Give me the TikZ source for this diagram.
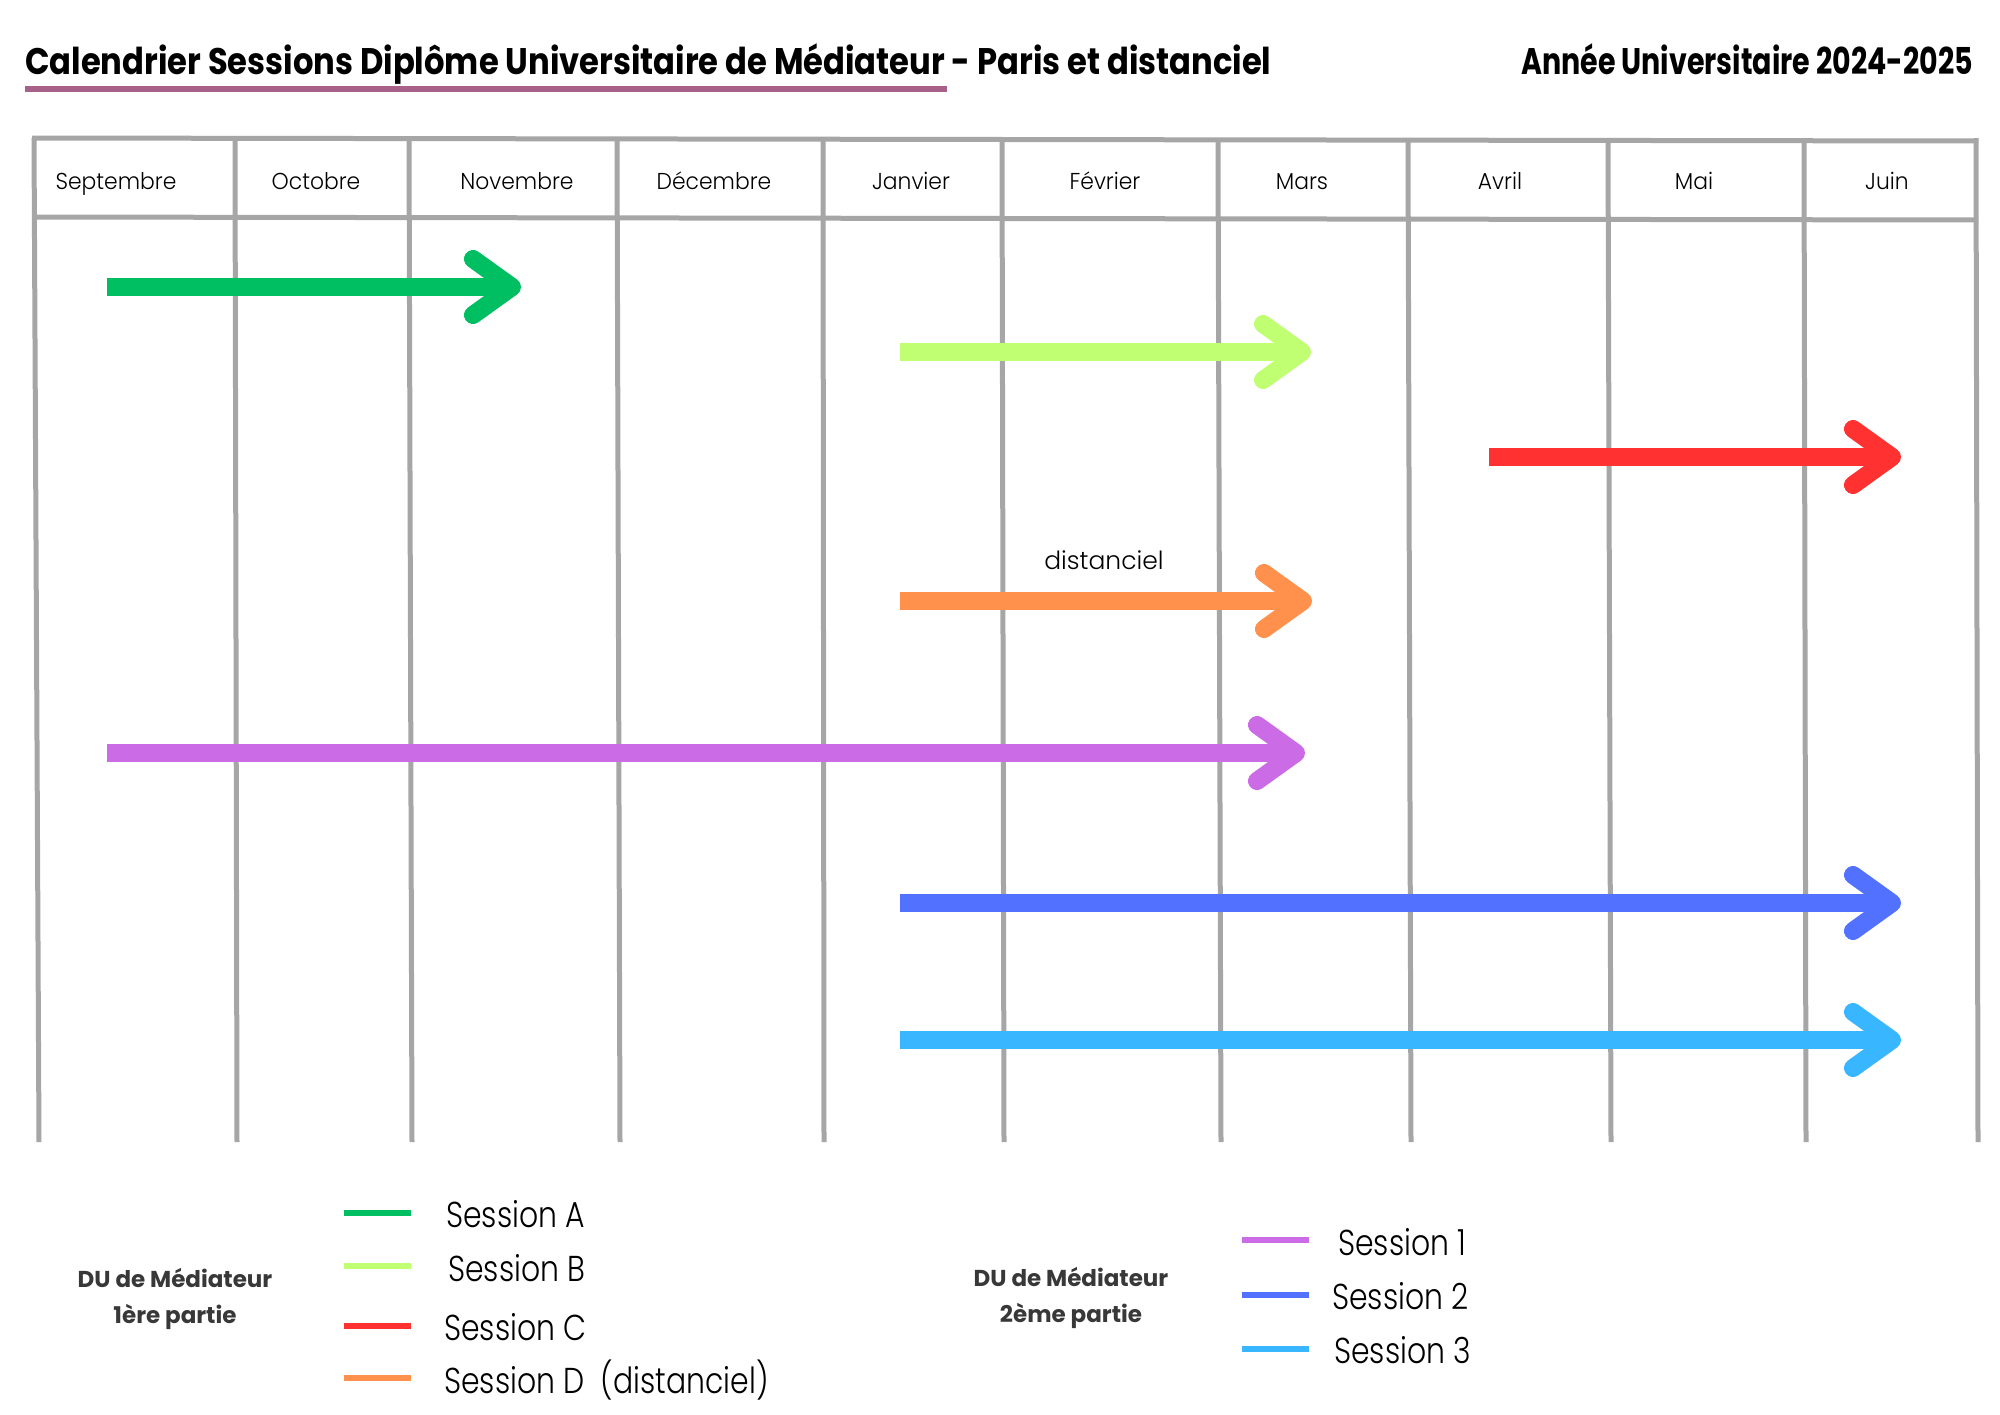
\documentclass[tikz,border=0pt]{standalone}
\usepackage{fontspec}
\setmainfont{Poppins}
\newfontfamily\plight{Poppins Light}
\newfontfamily\pbold{Poppins Bold}
\definecolor{gridc}{HTML}{A6A6A6}
\definecolor{ulc}{HTML}{A8628A}
\definecolor{cA}{HTML}{00BF63}
\definecolor{cB}{HTML}{C1FF72}
\definecolor{cC}{HTML}{FF3131}
\definecolor{cD}{HTML}{FF914D}
\definecolor{c1}{HTML}{CB6CE6}
\definecolor{c2}{HTML}{5271FF}
\definecolor{c3}{HTML}{38B6FF}
\definecolor{dug}{HTML}{383838}
\begin{document}
\begin{tikzpicture}[x=1pt,y=-1pt,
  gridline/.style={draw=gridc,line width=5pt},
  month/.style={inner sep=0pt,anchor=base,font=\plight\fontsize{23}{27}\selectfont,xscale=0.95},
  titletext/.style={inner sep=0pt,font=\pbold\fontsize{37}{42}\selectfont},
  legtext/.style={inner sep=0pt,anchor=west,font=\plight\fontsize{36}{40}\selectfont,xscale=0.83},
  dutext/.style={inner sep=0pt,align=center,text=dug,font=\pbold\fontsize{23}{36}\selectfont},
  legline/.style={line width=6pt},
  shaft/.style={line width=18pt,line cap=butt},
  head/.style={line width=18pt,line cap=round,line join=round},
]
\useasboundingbox[fill=white] (0,0) rectangle (2000,1414);

% title
\node[titletext,anchor=base west,xscale=0.87] (title) at (25,74) {Calendrier Sessions Diplôme Universitaire de Médiateur - Paris et distanciel};
\draw[ulc,line width=6pt] (25,89) -- (947,89);
\node[titletext,anchor=base east,xscale=0.77] (annee) at (1973,74) {Année Universitaire 2024-2025};

% grid
\draw[gridline] (32,138) -- (1978,141);
\draw[gridline] (35,217) -- (1978,220);
\foreach \xt/\xb in {34/39,235/237,409/412,617/620,823/824,1002/1004,1218/1221,1408/1411,1608/1611,1804/1806,1976/1978}
  \draw[gridline] (\xt,138) -- (\xb,1142);

% months
\foreach \x/\m in {116/Septembre,316/Octobre,517/Novembre,714/Décembre,911/Janvier,1105/Février,1302/Mars,1500/Avril,1694/Mai,1887/Juin}
  \node[month] (m\x) at (\x,189) {\m};

% session arrows
\foreach \n/\c/\xa/\xb/\y in {A/cA/107/512/287, B/cB/900/1302/352, C/cC/1489/1892/457, D/cD/900/1303/601, 1/c1/107/1296/753, 2/c2/900/1892/903, 3/c3/900/1892/1040}{
  \coordinate (s\n) at (\xa,\y);
  \coordinate (t\n) at (\xb,\y);
  \draw[shaft,\c] (s\n) -- ([xshift=-4pt]t\n);
  \draw[head,\c] ([shift={(-39,-28)}]t\n) -- (t\n) -- ([shift={(-39,28)}]t\n);
}
\node[inner sep=0pt,font=\plight\fontsize{25}{30}\selectfont] (dist) at (1104,560) {distanciel};

% legend part 1
\node[dutext] (du1) at (175,1299) {DU de Médiateur\\1ère partie};
\coordinate (lA1) at (344,1213); \coordinate (lA2) at (411,1213);
\coordinate (lB1) at (344,1266); \coordinate (lB2) at (411,1266);
\coordinate (lC1) at (344,1326); \coordinate (lC2) at (411,1326);
\coordinate (lD1) at (344,1378); \coordinate (lD2) at (411,1378);
\draw[legline,cA] (lA1) -- (lA2);
\draw[legline,cB] (lB1) -- (lB2);
\draw[legline,cC] (lC1) -- (lC2);
\draw[legline,cD] (lD1) -- (lD2);
\node[legtext] (tA) at (446,1214) {Session A};
\node[legtext] (tB) at (448,1268) {Session B};
\node[legtext] (tC) at (444,1327) {Session C};
\node[legtext] (tD) at (444,1380) {Session D\ \ (distanciel)};

% legend part 2
\node[dutext] (du2) at (1071,1298) {DU de Médiateur\\2ème partie};
\coordinate (l11) at (1242,1240); \coordinate (l12) at (1309,1240);
\coordinate (l21) at (1242,1295); \coordinate (l22) at (1309,1295);
\coordinate (l31) at (1242,1349); \coordinate (l32) at (1309,1349);
\draw[legline,c1] (l11) -- (l12);
\draw[legline,c2] (l21) -- (l22);
\draw[legline,c3] (l31) -- (l32);
\node[legtext] (t1) at (1338,1242) {Session 1};
\node[legtext] (t2) at (1332,1296) {Session 2};
\node[legtext] (t3) at (1334,1350) {Session 3};
\end{tikzpicture}
\end{document}
